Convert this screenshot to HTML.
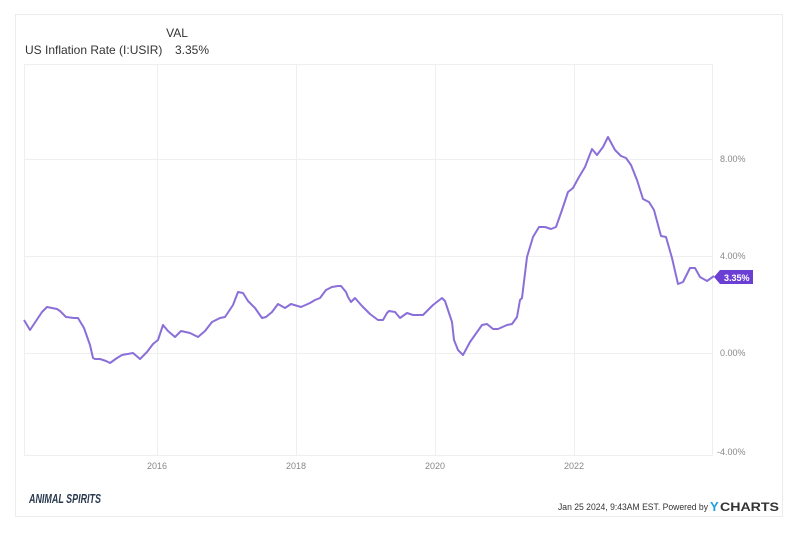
<!DOCTYPE html>
<html><head><meta charset="utf-8"><style>
body{margin:0;background:#fff;width:800px;height:536px;overflow:hidden;font-family:"Liberation Sans",sans-serif}
</style></head><body>
<svg width="800" height="536" xmlns="http://www.w3.org/2000/svg" font-family="Liberation Sans, sans-serif">
<rect x="15.5" y="14.5" width="767" height="502" fill="#fff" stroke="#ececec"/>
<text x="177" y="37" font-size="12" fill="#333" text-anchor="middle">VAL</text>
<text x="25" y="54" font-size="12" fill="#333">US Inflation Rate (I:USIR)</text>
<text x="175" y="54" font-size="12" fill="#333">3.35%</text>
<g stroke="#efefef" stroke-width="1">
<rect x="24.5" y="64.5" width="688" height="391" fill="none"/>
<line x1="157.5" y1="65" x2="157.5" y2="455"/>
<line x1="296.5" y1="65" x2="296.5" y2="455"/>
<line x1="435.5" y1="65" x2="435.5" y2="455"/>
<line x1="574.5" y1="65" x2="574.5" y2="455"/>
<line x1="24" y1="159.5" x2="712" y2="159.5"/>
<line x1="24" y1="256.5" x2="712" y2="256.5"/>
<line x1="24" y1="353.5" x2="712" y2="353.5"/>
</g>
<g font-size="9" fill="#888">
<text x="720" y="162">8.00%</text>
<text x="720" y="259">4.00%</text>
<text x="720" y="356">0.00%</text>
<text x="717" y="455">-4.00%</text>
<text x="157" y="469" text-anchor="middle">2016</text>
<text x="296" y="469" text-anchor="middle">2018</text>
<text x="435" y="469" text-anchor="middle">2020</text>
<text x="574" y="469" text-anchor="middle">2022</text>
</g>
<polyline fill="none" stroke="#8b6fd8" stroke-width="2" stroke-linejoin="round" points="24,320 30,330 42,312 47,307 57,309 60,311 66,317 74,318 78,318 84,328 90,345 93,358 95,359 100,359 106,361 110,363 117,358 122,355 133,353 140,359 147,352 153,344 158,340 163,325 168,331 175,337 181,331 190,333 198,337 205,331 212,322 220,318 225,317 233,305 238,292 243,293 248,301 255,308 262,318 266,317 272,312 278,304 285,308 291,304 301,307 310,303 315,300 320,298 326,290 332,287 338,286 341,286 346,292 348,297 351,302 355,298 362,306 370,314 378,320 383,320 387,313 389,311 395,312 400,318 407,313 413,315 423,315 433,305 442,298 445,301 448,310 452,322 454,340 458,350 463,355 470,342 482,325 487,324 493,329 498,329 507,325 512,324 517,317 520,300 522,298 527,257 533,237 539,227 545,227 551,229 556,227 562,210 568,192 573,188 579,177 585,167 592,149 597,155 603,147 608,137 615,150 621,156 626,158 631,165 637,180 643,199 649,202 654,210 661,236 666,237 672,258 678,284 683,282 690,268 695,268 700,277 707,281 714,276"/>
<path d="M714,277 L720,270 L753,270 L753,284 L720,284 Z" fill="#6b3fd4"/>
<text x="724" y="281" font-size="9" fill="#fff" font-weight="bold">3.35%</text>
<text x="29" y="503" font-size="13" fill="#2a3a4e" font-style="italic" font-weight="bold" textLength="72" lengthAdjust="spacingAndGlyphs">ANIMAL SPIRITS</text>
<text x="558" y="510" font-size="9" fill="#333" textLength="150" lengthAdjust="spacingAndGlyphs">Jan 25 2024, 9:43AM EST. Powered by</text>
<text x="710" y="511" font-size="13" font-weight="bold" fill="#1da1e0">Y</text>
<text x="720" y="511" font-size="12" font-weight="bold" fill="#333" textLength="59" lengthAdjust="spacingAndGlyphs">CHARTS</text>
</svg>
</body></html>
